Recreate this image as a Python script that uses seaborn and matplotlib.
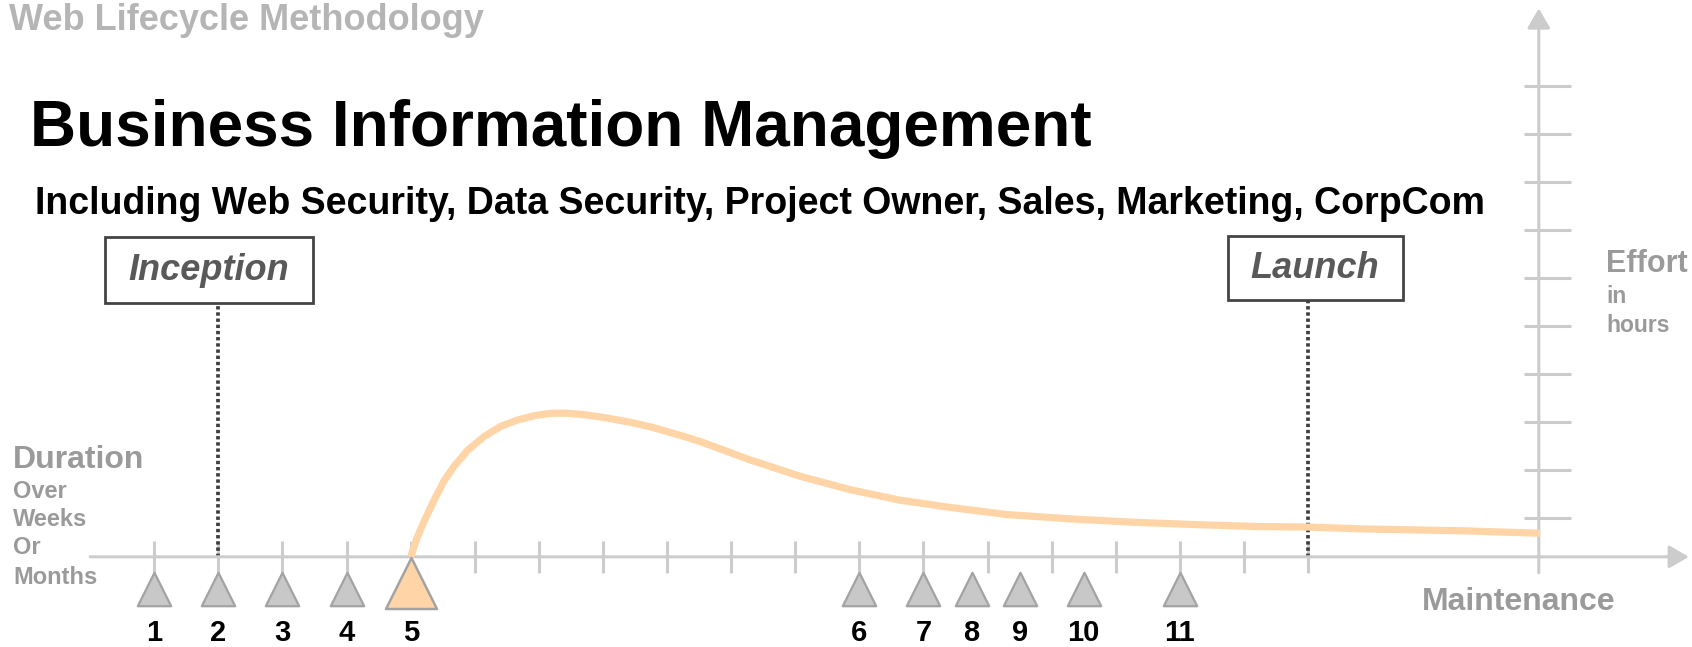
import matplotlib
matplotlib.use("Agg")
import matplotlib.pyplot as plt
import seaborn as sns
from matplotlib.patches import Rectangle

# --- data -------------------------------------------------------------
# milestones along the duration axis (tick units)
milestone_x = [1, 2, 3, 4, 5, 12, 13, 13.75, 14.5, 15.5, 17]
milestone_labels = ["1", "2", "3", "4", "5", "6", "7", "8", "9", "10", "11"]
highlight_label = "5"

# effort curve (duration vs effort in hours)
curve_x = [5.0, 5.10, 5.21, 5.37, 5.52, 5.68, 5.89, 6.15, 6.41, 6.67, 6.93,
           7.19, 7.45, 7.71, 7.97, 8.23, 8.50, 8.76, 9.02, 9.28, 9.54,
           10.29, 11.07, 11.85, 12.63, 13.41, 14.30, 15.29, 16.28, 17.26,
           18.24, 19.0, 19.89, 21.47, 22.62]
curve_y = [0.0, 0.40, 0.74, 1.19, 1.58, 1.89, 2.22, 2.51, 2.72, 2.85, 2.94,
           2.99, 2.99, 2.96, 2.91, 2.85, 2.78, 2.70, 2.60, 2.50, 2.39,
           2.02, 1.68, 1.40, 1.18, 1.03, 0.88, 0.79, 0.72, 0.67,
           0.63, 0.62, 0.58, 0.54, 0.49]

duration_ticks = list(range(1, 20))
effort_ticks = [0.8, 1.8, 2.8, 3.8, 4.8, 5.8, 6.8, 7.8, 8.8, 9.8]

inception_x = 2
launch_x = 19
effort_axis_x = 22.6
duration_axis_end = 24.94
effort_axis_end = 11.42

# --- style ------------------------------------------------------------
W, H = 1692, 647
AXIS_C = "#cccccc"
GRAY_TXT = "#9a9a9a"
PEACH = "#ffd5a8"

sns.set_theme(style="white")
plt.rcParams["font.family"] = ["Liberation Sans", "DejaVu Sans"]

fig = plt.figure(figsize=(W / 100, H / 100), dpi=100)
ax = fig.add_axes([0, 0, 1, 1])
ax.set_xlim(-1.407, 24.99)
ax.set_ylim(-1.878, 11.595)
ax.axis("off")


def ftext(x, y, s, **kw):
    # x, y in image pixels from top-left
    return fig.text(x / W, 1 - y / H, s, **kw)


def fbox(x0, y0, x1, y1):
    fig.add_artist(Rectangle((x0 / W, 1 - y1 / H), (x1 - x0) / W, (y1 - y0) / H,
                             transform=fig.transFigure, facecolor="white",
                             edgecolor="#444444", lw=2.0, zorder=5))


# axes with arrows
arrow_kw = dict(arrowstyle="-|>,head_length=0.6,head_width=0.35",
                color=AXIS_C, lw=2.2, mutation_scale=20, shrinkA=0, shrinkB=0)
ax.annotate("", xy=(duration_axis_end, 0), xytext=(0, 0), arrowprops=arrow_kw)
ax.annotate("", xy=(effort_axis_x, effort_axis_end), xytext=(effort_axis_x, -0.33),
            arrowprops=arrow_kw)
ax.vlines(duration_ticks, -0.33, 0.33, color=AXIS_C, lw=2.2)
ax.hlines(effort_ticks, effort_axis_x - 0.23, effort_axis_x + 0.51, color=AXIS_C, lw=2.2)

# inception / launch markers
ax.vlines([inception_x], 0, 5.28, color="#3f3f3f", lw=2.7, linestyles=(0, (0.9, 0.75)))
ax.vlines([launch_x], 0, 5.35, color="#3f3f3f", lw=2.7, linestyles=(0, (0.9, 0.75)))

# effort curve
sns.lineplot(x=curve_x, y=curve_y, sort=False, estimator=None, color=PEACH,
             lw=5.2, solid_capstyle="butt", solid_joinstyle="round", ax=ax, zorder=3)

# milestones
gray_x = [x for x, l in zip(milestone_x, milestone_labels) if l != highlight_label]
hi_x = [x for x, l in zip(milestone_x, milestone_labels) if l == highlight_label]
sns.scatterplot(x=gray_x, y=[-0.66] * len(gray_x), marker="^", s=580,
                color="#c8c8c8", edgecolor="#a3a3a3", linewidth=1.6, ax=ax, zorder=4)
sns.scatterplot(x=hi_x, y=[-0.54] * len(hi_x), marker="^", s=1350,
                color=PEACH, edgecolor="#a3a3a3", linewidth=1.8, ax=ax, zorder=4)
for x, lab in zip(milestone_x, milestone_labels):
    ax.text(x, -1.58, lab, ha="center", va="center", fontsize=21,
            fontweight="bold", color="black")

# titles
ftext(9, 30, "Web Lifecycle Methodology", fontsize=26, fontweight="bold",
      color="#b5b5b5", va="baseline")
ftext(30, 146, "Business Information Management", fontsize=46,
      fontweight="bold", color="black", va="baseline")
ftext(35, 214, "Including Web Security, Data Security, Project Owner, Sales, "
      "Marketing, CorpCom", fontsize=27, fontweight="bold", color="black",
      va="baseline")

# boxes
fbox(105, 237, 313, 303)
ftext(209, 270, "Inception", fontsize=26, fontweight="bold", style="italic",
      color="#595959", ha="center", va="center", zorder=6)
fbox(1228, 236, 1403, 300)
ftext(1315, 268, "Launch", fontsize=26, fontweight="bold", style="italic",
      color="#595959", ha="center", va="center", zorder=6)

# axis captions
ftext(1606, 264, "Effort", fontsize=22, fontweight="bold", color=GRAY_TXT, va="center")
ftext(1606, 297, "in", fontsize=16.5, fontweight="bold", color=GRAY_TXT, va="center")
ftext(1606, 326, "hours", fontsize=16.5, fontweight="bold", color=GRAY_TXT, va="center")

ftext(13, 460, "Duration", fontsize=23, fontweight="bold", color=GRAY_TXT, va="center")
for y, word in zip([491, 520, 548, 577], ["Over", "Weeks", "Or", "Months"]):
    ftext(13, y, word, fontsize=17, fontweight="bold", color=GRAY_TXT, va="center")

ftext(1422, 602, "Maintenance", fontsize=23, fontweight="bold", color=GRAY_TXT, va="center")

fig.savefig("out.png", dpi=100)
